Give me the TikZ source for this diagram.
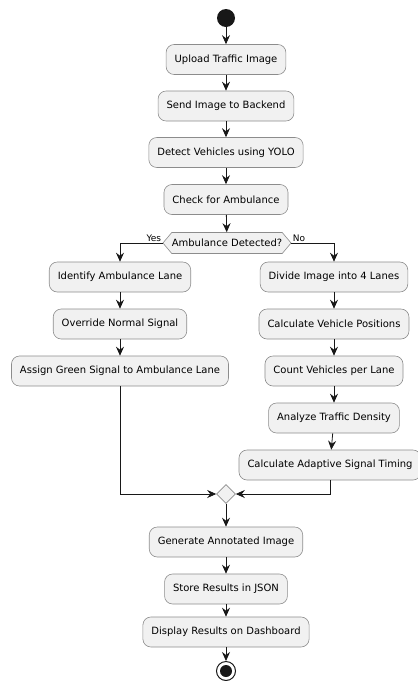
\documentclass[tikz,border=0pt]{standalone}
\usepackage{fontspec}
\setmainfont{DejaVu Sans}
\usepackage{tikz}
\usetikzlibrary{arrows.meta}
\usetikzlibrary{shapes.geometric, shapes.symbols}
\definecolor{boxfill}{HTML}{F1F1F1}
\definecolor{boxline}{HTML}{8C8C8C}
\definecolor{linecol}{HTML}{181818}

\begin{document}
\begin{tikzpicture}[x=1pt, y=-1pt]
	\useasboundingbox (0,0) rectangle (418,681);

	\node[circle, fill=linecol, minimum size=18pt, inner sep=0pt] (s) at (226,18) {};

	\begin{scope}[every node/.style={draw=boxline, fill=boxfill, line width=0.6pt,
	              rounded corners=8pt, minimum height=30pt, inner xsep=8.5pt,
	              font=\fontsize{10}{12}\selectfont}]
		\node (1) at (226,59.5) {Upload Traffic Image};
		\node (2) at (226,106) {Send Image to Backend};
		\node (3) at (226,152.5) {Detect Vehicles using YOLO};
		\node (4) at (226,199.5) {Check for Ambulance};

		\node (5) at (120,277) {Identify Ambulance Lane};
		\node (6) at (120,324) {Override Normal Signal};
		\node (7) at (120,371) {Assign Green Signal to Ambulance Lane};

		\node (8) at (334,277) {Divide Image into 4 Lanes};
		\node (9) at (334,324) {Calculate Vehicle Positions};
		\node (10) at (334,371) {Count Vehicles per Lane};
		\node (11) at (334,418) {Analyze Traffic Density};
		\node (12) at (330,465) {Calculate Adaptive Signal Timing};

		\node (13) at (226,542) {Generate Annotated Image};
		\node (14) at (226,589) {Store Results in JSON};
		\node (15) at (226,632) {Display Results on Dashboard};
	\end{scope}

	\node[shape=signal, signal to=west and east, signal pointer angle=100,
	      draw=boxline, fill=boxfill, line width=0.6pt, minimum height=21pt,
	      inner xsep=0pt, inner ysep=1pt, font=\fontsize{10}{12}\selectfont] (d) at (227,243) {Ambulance Detected?};
	\node[diamond, draw=boxline, fill=boxfill, line width=0.6pt,
	      minimum size=19pt, inner sep=0pt] (m) at (226,494) {};

	\node[circle, draw=linecol, fill=white, line width=1pt, minimum size=19pt, inner sep=0pt] (e) at (226,671) {};
	\fill[linecol] (e.center) circle (6pt);

	\begin{scope}[>={Stealth[length=9pt, width=8pt, inset=3pt]},
	              every edge/.style={draw=linecol, line width=0.8pt, ->}]
		\path (s) edge (1);
		\path (1) edge (2);
		\path (2) edge (3);
		\path (3) edge (4);
		\path (4) edge (d);
		\path (5) edge (6);
		\path (6) edge (7);
		\path (8) edge (9);
		\path (9) edge (10);
		\path (10) edge (11);
		\path (11) edge (12);
		\path (m) edge (13);
		\path (13) edge (14);
		\path (14) edge (15);
		\path (15) edge (e);
	\end{scope}

	\begin{scope}[>={Stealth[length=9pt, width=8pt, inset=3pt]}, draw=linecol, line width=0.8pt]
		\draw[->] (d.west) -| (5) node[pos=0, anchor=south east, inner sep=1pt, font=\fontsize{9}{10}\selectfont] (yes) {Yes};
		\draw[->] (d.east) -| (8) node[pos=0, anchor=south west, inner sep=1pt, font=\fontsize{9}{10}\selectfont] (no) {No};
		\draw[->] (7) |- (m);
		\draw[->] (12) |- (m);
	\end{scope}
\end{tikzpicture}
\end{document}
